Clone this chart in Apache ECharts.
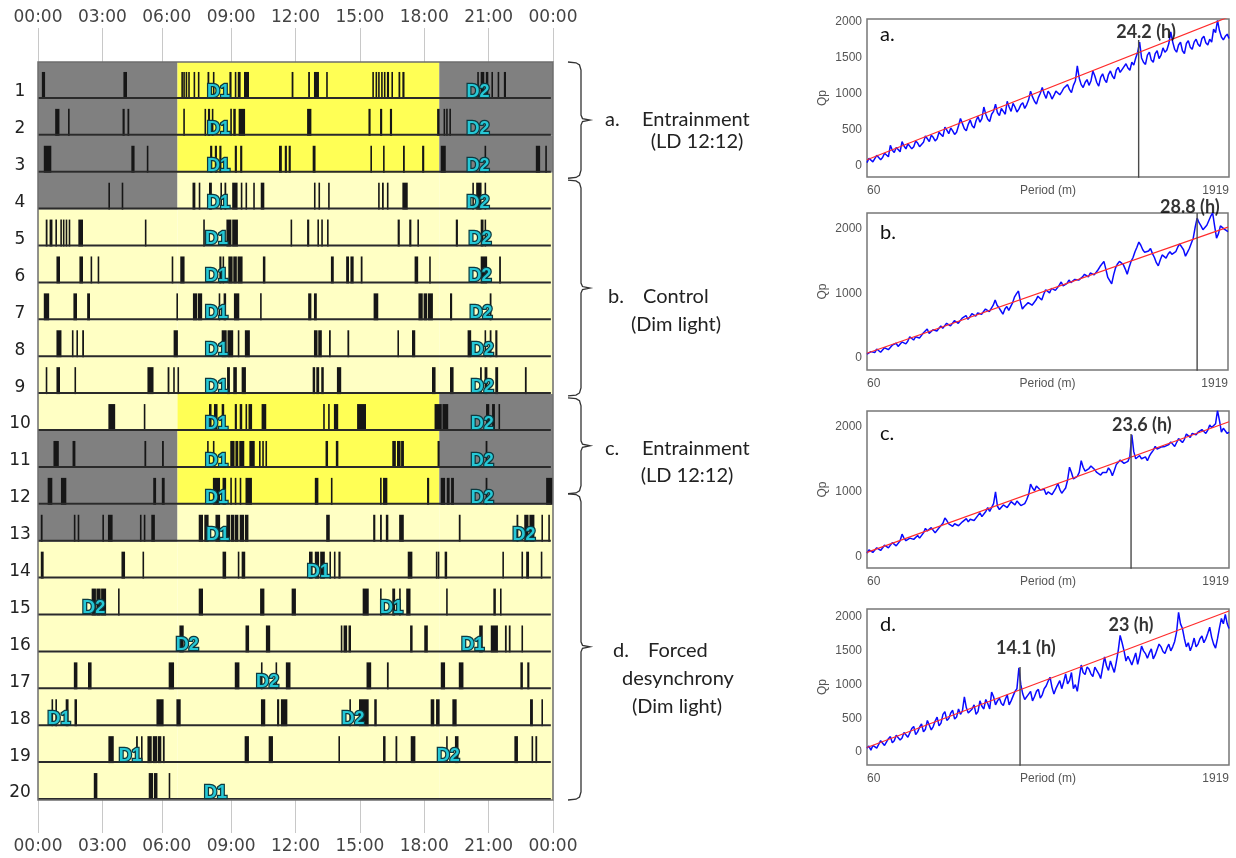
<!DOCTYPE html>
<html><head><meta charset="utf-8">
<script src="https://cdn.jsdelivr.net/npm/echarts@6/dist/echarts.min.js"></script>
<style>html,body{margin:0;padding:0;background:#fff}#c{width:1236px;height:858px}</style>
</head><body><div id="c"></div>
<script>
// ================= DATA =================
// Actogram: hour axis
const hourTicks  = [0, 3, 5.8, 9, 12, 15, 18, 21, 24];
const hourLabels = [0, 3, 6, 9, 12, 15, 18, 21, 24];
// light schedule boundaries (hours) and per-day regime: D = dark, L = light, d = dim light
const lightBounds = [0, 6.5, 18.7, 24];
const dayRegimes = ['DLD','DLD','DLD','Ddd','ddd','ddd','ddd','ddd','ddd','dLD',
                    'DLD','DLD','Ddd','ddd','ddd','ddd','ddd','ddd','ddd','ddd'];
// activity bouts per day: [start hour, duration in minutes]
const bouts = [
 [[0.18,9],[3.98,10],[6.68,3],[6.77,3],[6.88,3],[7.0,3],[7.25,2],[7.45,4],[7.9,5],[8.15,3],[8.92,6],[9.17,3],[9.31,8],[9.6,14],[11.82,5],[12.59,5],[12.86,14],[13.43,3],[15.58,3],[15.73,3],[15.85,3],[15.99,3],[16.12,3],[16.26,6],[16.47,2],[16.8,5],[16.98,6],[20.47,3],[20.63,10],[20.87,7],[21.13,3],[21.42,4],[21.71,6]],
 [[0.8,12],[1.4,3],[3.94,6],[4.17,5],[6.77,3],[7.76,3],[7.92,6],[8.1,4],[8.96,3],[9.1,7],[9.35,18],[12.54,12],[15.4,6],[15.94,6],[16.4,6],[18.6,7],[18.9,3],[19.02,3],[19.17,3]],
 [[0.27,21],[4.35,9],[5.07,4],[8.02,6],[8.24,6],[8.45,6],[9.17,6],[9.42,6],[11.23,8],[11.5,6],[11.68,6],[12.8,8],[15.49,3],[16.08,4],[17.01,5],[17.9,6],[18.77,14],[20.81,2],[23.2,12],[23.64,3]],
 [[3.28,4],[3.9,3],[7.2,8],[7.49,4],[7.97,8],[8.5,3],[8.69,5],[9.05,15],[9.45,3],[9.67,3],[10.03,3],[10.38,10],[12.86,3],[13.07,3],[13.52,3],[15.85,3],[16.03,5],[16.26,3],[16.98,15],[20.24,3],[20.42,15],[20.81,3]],
 [[0.36,5],[0.54,8],[0.81,3],[1.04,2],[1.16,3],[1.29,2],[1.43,3],[1.88,13],[4.98,4],[7.7,3],[8.78,14],[9.05,16],[11.77,2],[12.54,6],[13.02,3],[13.2,3],[13.47,3],[16.76,6],[17.3,6],[17.68,3],[19.47,6],[20.63,8],[20.81,2]],
 [[0.86,10],[1.93,10],[2.45,3],[2.78,3],[6.23,4],[6.63,12],[8.45,6],[8.6,4],[8.87,12],[9.1,10],[9.3,14],[10.48,7],[13.65,8],[14.36,8],[14.56,9],[15.04,5],[17.55,10],[18.23,4],[20.63,18],[21.49,5]],
 [[0.27,15],[1.65,10],[2.29,8],[6.45,4],[7.22,12],[7.45,12],[8.42,3],[8.65,7],[9.13,15],[10.35,3],[12.59,9],[12.86,8],[15.64,13],[17.73,12],[17.97,10],[18.17,14],[19.2,6],[21.05,5]],
 [[0.86,14],[1.58,3],[1.79,3],[2.06,5],[6.32,12],[8.56,14],[8.83,16],[9.31,3],[9.64,14],[12.86,10],[13.06,10],[13.56,5],[14.42,5],[16.75,3],[17.43,9],[20.02,10],[20.81,3],[21.05,5],[21.31,6]],
 [[0.36,2],[0.86,10],[1.7,3],[5.1,17],[6.04,5],[6.3,4],[6.5,2],[8.81,8],[9.1,10],[9.49,12],[12.8,7],[12.97,8],[13.2,7],[13.93,12],[18.36,10],[19.2,10],[20.6,5],[20.81,8],[21.31,8],[22.69,5]],
 [[3.28,19],[4.93,3],[7.97,7],[8.2,10],[8.56,7],[9.17,6],[9.4,7],[9.67,3],[9.81,10],[10.42,13],[13.29,3],[13.52,3],[13.79,12],[14.87,25],[18.48,20],[18.85,16],[20.88,9],[21.16,8],[21.46,4]],
 [[0.72,15],[1.61,8],[4.96,5],[5.78,5],[7.88,3],[8.15,4],[8.96,12],[9.2,8],[9.38,14],[9.85,15],[10.3,4],[10.45,3],[10.6,3],[13.4,7],[13.88,7],[16.51,10],[16.73,10],[16.92,8],[18.62,6],[20.86,5]],
 [[0.45,13],[1.07,15],[5.37,8],[5.77,8],[8.15,20],[8.6,10],[8.96,3],[9.17,3],[9.4,3],[9.67,18],[12.9,10],[13.65,4],[15.94,3],[16.08,12],[18.13,6],[18.77,12],[19.05,8],[19.25,8],[20.86,5],[23.68,18]],
 [[0.13,5],[1.67,3],[1.85,3],[3.0,4],[3.26,13],[4.75,3],[4.93,3],[5.28,10],[7.49,12],[7.75,12],[8.27,13],[8.78,10],[8.98,10],[9.17,10],[9.4,12],[9.64,10],[13.43,10],[15.62,6],[15.94,5],[16.21,7],[16.83,13],[19.61,5],[22.3,5],[22.66,12],[22.9,14],[23.46,3],[23.78,3]],
 [[0.13,8],[3.89,10],[4.87,4],[8.6,10],[9.31,3],[9.49,10],[12.63,10],[12.9,12],[13.15,13],[13.58,3],[13.79,3],[14.0,6],[17.23,13],[18.54,3],[18.63,3],[18.95,7],[21.64,4],[22.53,3],[22.75,8],[23.43,3]],
 [[2.5,12],[2.72,12],[2.94,14],[3.73,4],[7.49,12],[10.35,12],[11.82,12],[15.13,17],[15.94,2],[16.51,8],[16.83,3],[17.16,12],[19.02,4],[21.22,7],[21.53,4]],
 [[6.59,12],[9.67,10],[10.62,12],[14.11,3],[14.24,10],[14.47,7],[17.34,7],[18.0,10],[20.56,10],[21.1,20],[21.76,5],[21.94,5],[22.53,3]],
 [[1.67,10],[2.33,10],[6.09,15],[9.17,13],[10.39,2],[11.07,3],[11.55,13],[15.31,13],[16.26,5],[18.77,12],[19.61,13],[22.48,7],[22.8,6]],
 [[0.63,2],[0.81,2],[1.29,8],[1.7,7],[5.52,20],[6.45,12],[10.39,12],[11.14,6],[11.32,18],[14.51,3],[14.96,27],[15.67,7],[18.3,10],[18.55,10],[19.31,12],[22.93,8],[23.46,2]],
 [[3.28,15],[4.57,5],[4.8,4],[5.1,12],[5.35,12],[5.58,10],[5.82,5],[9.63,12],[10.75,12],[14.0,4],[16.08,7],[16.66,5],[17.37,13],[19.02,3],[19.43,10],[22.2,10],[23.0,3],[23.18,5]],
 [[2.6,10],[5.16,12],[5.4,10],[6.09,3]]
];
// D1 / D2 markers: [hour, day, text]
const dMarks = [
 [8.41,1,'D1'],[20.5,1,'D2'],[8.41,2,'D1'],[20.5,2,'D2'],[8.41,3,'D1'],[20.5,3,'D2'],[8.41,4,'D1'],[20.5,4,'D2'],
 [8.32,5,'D1'],[20.6,5,'D2'],[8.32,6,'D1'],[20.6,6,'D2'],[8.32,7,'D1'],[20.64,7,'D2'],[8.32,8,'D1'],[20.7,8,'D2'],
 [8.32,9,'D1'],[20.7,9,'D2'],[8.32,10,'D1'],[20.7,10,'D2'],[8.32,11,'D1'],[20.7,11,'D2'],[8.32,12,'D1'],[20.7,12,'D2'],
 [8.38,13,'D1'],[22.65,13,'D2'],[13.07,14,'D1'],[2.6,15,'D2'],[16.47,15,'D1'],[6.95,16,'D2'],[20.26,16,'D1'],
 [10.7,17,'D2'],[0.98,18,'D1'],[14.68,18,'D2'],[4.3,19,'D1'],[19.12,19,'D2'],[8.27,20,'D1']
];
// bracket spans in day units: [first day boundary, last day boundary]
const brackets = [[0, 3.15], [3.2, 9.05], [9.1, 11.7], [11.7, 20]];

// Periodograms (period in minutes, Qp)
const periods = [60,80,100,120,140,160,180,200,220,240,260,280,300,320,340,360,380,400,420,440,460,480,500,520,540,560,580,600,620,640,660,680,700,720,740,760,780,800,820,840,860,880,900,920,940,960,980,1000,1020,1040,1060,1080,1100,1120,1140,1160,1180,1200,1220,1240,1260,1280,1300,1320,1340,1360,1380,1400,1420,1440,1460,1480,1500,1520,1540,1560,1580,1600,1620,1640,1660,1680,1700,1720,1740,1760,1780,1800,1820,1840,1860,1880,1900,1919];
const midPeriods = [70,90,110,130,150,170,190,210,230,250,270,290,310,330,350,370,390,410,430,450,470,490,510,530,550,570,590,610,630,650,670,690,710,730,750,770,790,810,830,850,870,890,910,930,950,970,990,1010,1030,1050,1070,1090,1110,1130,1150,1170,1190,1210,1230,1250,1270,1290,1310,1330,1350,1370,1390,1410,1430,1450,1470,1490,1510,1530,1550,1570,1590,1610,1630,1650,1670,1690,1710,1730,1750,1770,1790,1810,1830,1850,1870,1890,1910];
const qpA = [50,95,80,140,120,175,290,190,230,340, 240,290,270,320,300,420,340,400,380,440, 540,450,490,470,660,520,580,560,630,610, 820,650,720,860,700,760,900,760,820,790, 880,850,1040,900,950,1090,940,1000,980,1060, 1030,1100,1060,1120,1390,1130,1160,1120,1320,1160, 1230,1200,1270,1250,1330,1300,1380,1360,1440,1500, 1720,1440,1540,1470,1560,1490,1640,1610,1860,1620, 1680,1600,1700,1650,1720,1690,1770,1710,1760,1900, 2020,1790,1800,1770];
const qpAmid = [110,60,150,90,180,130,220,260,200,280, 310,240,350,270,330,380,430,350,470,410, 500,530,440,560,590,490,640,530,690,660, 720,620,760,740,800,720,820,870,750,850, 800,920,960,860,1010,1000,1040,930,1040,990, 1080,1130,1020,1180,1220,1090,1200,1180,1250,1110, 1280,1160,1320,1210,1370,1280,1420,1330,1400,1580, 1500,1410,1580,1440,1600,1540,1580,1700,1720,1580, 1720,1560,1740,1620,1760,1660,1800,1680,1720,1850, 1880,1750,1830];
const qpB = [60,100,85,130,110,170,150,210,180,250, 220,330,280,360,330,420,380,440,420,500, 470,560,520,600,560,640,600,690,650,720, 690,790,740,900,780,680,800,770,950,1040, 760,820,880,840,960,900,1060,1010,1110,1060, 1180,1100,1210,1150,1250,1200,1300,1260,1340,1300, 1420,1500,1250,1150,1400,1500,1450,1300,1500,1650, 1800,1680,1620,1700,1560,1430,1600,1550,1650,1590, 1720,1800,1580,1700,1860,2170,2050,2000,2130,2250, 1860,2050,2000,1960];
const qpBmid = [50,120,140,90,160,130,200,230,170,270, 260,300,330,310,390,450,390,460,450,460, 540,500,580,540,620,660,640,660,700,680, 760,720,820,820,730,760,740,860,1000,880, 800,860,820,900,930,990,1040,1080,1050,1130, 1120,1160,1170,1220,1210,1260,1270,1320,1290,1370, 1450,1380,1200,1290,1460,1470,1380,1410,1560,1720, 1750,1640,1660,1620,1480,1520,1580,1610,1610,1650, 1770,1680,1640,1780,2030,2100,1990,2060,2200,2050, 1930,2020,1980];
const qpC = [60,100,85,130,115,170,150,210,190,350, 250,290,270,330,310,440,380,420,400,470, 600,510,470,530,500,560,540,610,590,680, 650,760,730,1000,730,800,760,850,800,830, 780,880,1120,1020,1070,1000,960,1030,990,1130, 980,1060,1380,1200,1240,1480,1320,1360,1390,1300, 1260,1330,1370,1250,1420,1490,1440,1470,1880,1510, 1560,1520,1480,1600,1700,1640,1680,1720,1770,1700, 1820,1760,1890,1840,1880,1920,1960,1900,2030,1960, 2250,1920,1950,1920];
const qpCmid = [110,70,140,100,180,140,220,170,250,290, 240,320,300,290,370,400,450,370,450,520, 560,480,510,480,540,590,580,560,640,620, 700,700,820,780,760,820,790,820,860,790, 820,960,1060,1090,1030,1040,1000,960,1060,1040, 1020,1180,1300,1220,1300,1380,1340,1400,1340,1290, 1300,1300,1330,1330,1450,1460,1430,1550,1620,1540, 1510,1540,1550,1640,1660,1690,1700,1730,1740,1760, 1800,1810,1860,1900,1880,1930,1940,1950,1990,2050, 2100,1980,1900];
const qpD = [60,30,110,80,160,120,230,170,270,210, 300,240,380,300,420,340,450,380,520,430, 600,500,620,520,560,820,580,640,560,760, 640,720,890,700,800,690,850,760,900,1250, 860,760,900,820,930,850,980,1110,860,1000, 940,1160,1060,940,900,1290,1150,1230,1120,1240, 1090,1410,1210,1260,1330,1730,1500,1420,1290,1470, 1420,1500,1390,1530,1440,1600,1490,1540,1500,1640, 2070,1830,1560,1500,1690,1600,1720,1680,1850,1600, 1680,1980,2040,1830];
const qpDmid = [90,100,60,170,100,200,140,250,180,290, 220,350,260,370,300,470,330,460,390,560, 470,580,490,640,610,660,560,700,600,680, 780,640,820,760,720,780,700,830,940,1000, 780,860,760,900,800,940,1050,960,940,1060, 1040,1010,1180,1000,1100,1180,1260,1160,1260,1160, 1250,1280,1350,1180,1500,1620,1350,1360,1380,1300, 1570,1460,1470,1380,1520,1560,1460,1600,1560,1780, 1900,1680,1620,1580,1560,1680,1620,1760,1700,1540, 1840,1900,1900];
const trendA = [[60,90],[1919,2070]];
const trendB = [[60,75],[1919,2030]];
const trendC = [[60,70],[1919,2080]];
const trendD = [[60,70],[1919,2090]];
const peakA = [[1455,1750]];
const peakB = [[1760,2250]];
const peakC = [[1416,1890]];
const peakD = [[846,1260]];
const noteA = [[1493,1860,'24.2 (h)']];
const noteB = [[1723,2340,'28.8 (h)']];
const noteC = [[1472,2031,'23.6 (h)']];
const noteD = [[876,1541,'14.1 (h)'],[1416,1881,'23 (h)']];
const panelNames = ['a.','b.','c.','d.'];

// ================= CHART =================
const chart = echarts.init(document.getElementById('c'), null, {renderer:'canvas'});
const bgColors = {D:'#808080', L:'#ffff55', d:'#ffffc4'};
const bgData = [];
dayRegimes.forEach((reg, i) => { for (let j = 0; j < 3; j++) bgData.push([lightBounds[j], i + 1, lightBounds[j+1], reg[j]]); });
const barData = [];
bouts.forEach((day, i) => day.forEach(b => barData.push([b[0], i + 1, b[1]])));
const dayIdx = dayRegimes.map((_, i) => [0, i + 1]);
const fmtHour = v => { const h = Math.round(v) % 24; return (h < 10 ? '0' : '') + h + ':00'; };

const gridsP = [
  {left:867, top:19, width:362, height:158},
  {left:867, top:213, width:361, height:157},
  {left:867, top:411, width:362, height:157},
  {left:867, top:609, width:362, height:156}
];
const yRanges = [[-150,2040,5,500],[-185,2250,2,1000],[-170,2245,2,1000],[-190,2120,5,500]];
const pFont = 'Liberation Sans';

const hourAxis = (pos, len, margin) => ({type:'value', gridIndex:0, position:pos, min:0, max:24, interval:3,
   axisLine:{show:false, onZero:false}, splitLine:{show:false},
   axisTick:{show:true, inside:false, length:len, customValues:hourTicks, lineStyle:{color:'#c8c8c8', width:1}},
   axisLabel:{customValues:hourLabels, formatter:fmtHour, margin:margin, fontSize:17, color:'#444', fontFamily:'DejaVu Sans'}});
const xAxes = [hourAxis('bottom', 33, 38), hourAxis('top', 34, 36)];
const yAxes = [{type:'value', gridIndex:0, min:0, max:20, inverse:true, show:false}];
gridsP.forEach((g, k) => {
  xAxes.push({type:'value', gridIndex:k+1, min:60, max:1919,
    name:'Period (m)', nameLocation:'middle', nameGap:8, nameMoveOverlap:false,
    nameTextStyle:{fontSize:12, color:'#555', fontFamily:pFont, verticalAlign:'top'},
    axisLine:{show:false, onZero:false}, axisTick:{show:false}, splitLine:{show:false},
    axisLabel:{margin:8, fontSize:12, color:'#555', fontFamily:pFont, interval:0,
      showMinLabel:true, showMaxLabel:true, alignMinLabel:'left', alignMaxLabel:'right',
      formatter: v => (v === 60 || v === 1919) ? String(v) : ''}});
  const r = yRanges[k];
  yAxes.push({type:'value', gridIndex:k+1, min:r[0], max:r[1], splitNumber:r[2],
    name:'Qp', nameLocation:'middle', nameGap:38, nameRotate:90, nameMoveOverlap:false,
    nameTextStyle:{fontSize:12, color:'#555', fontFamily:pFont},
    axisLine:{show:false, onZero:false}, axisTick:{show:false}, splitLine:{show:false},
    axisLabel:{margin:5, fontSize:12, color:'#555', fontFamily:pFont,
      formatter: v => (v >= 0 && v <= 2000 && v % r[3] === 0) ? String(v) : ''}});
});

const series = [
  {type:'custom', name:'background', xAxisIndex:0, yAxisIndex:0, z:1, data:bgData, silent:true,
   renderItem:(params, api) => {
     const p1 = api.coord([api.value(0), api.value(1) - 1]);
     const p2 = api.coord([api.value(2), api.value(1)]);
     return {type:'rect', shape:{x:p1[0], y:p1[1], width:p2[0]-p1[0], height:p2[1]-p1[1]},
             style:{fill:bgColors[bgData[params.dataIndex][3]]}};
   }},
  {type:'custom', name:'activity', xAxisIndex:0, yAxisIndex:0, z:2, data:barData, silent:true,
   renderItem:(params, api) => {
     const s = api.value(0), d = api.value(1), m = api.value(2);
     const p1 = api.coord([s, d - 1 + 0.27]);
     const p2 = api.coord([s + m / 60, d]);
     return {type:'rect', shape:{x:p1[0], y:p1[1], width:Math.max(1.6, p2[0]-p1[0]), height:p2[1]-p1[1]},
             style:{fill:'#161616'}};
   }},
  {type:'custom', name:'baselines', xAxisIndex:0, yAxisIndex:0, z:3, data:dayIdx, silent:true,
   renderItem:(params, api) => {
     const d = api.value(1);
     const p1 = api.coord([0, d]), p2 = api.coord([23.9, d]);
     return {type:'line', shape:{x1:p1[0], y1:p1[1]-1, x2:p2[0], y2:p2[1]-1}, style:{stroke:'#2a2a2a', lineWidth:2}};
   }},
  {type:'custom', name:'frame', xAxisIndex:0, yAxisIndex:0, z:4, data:[[0,0,24,20]], silent:true,
   renderItem:(params, api) => {
     const p1 = api.coord([0, 0]), p2 = api.coord([24, 20]);
     return {type:'rect', shape:{x:p1[0], y:p1[1], width:p2[0]-p1[0], height:p2[1]-p1[1]},
             style:{fill:'none', stroke:'#6e6e6e', lineWidth:1.5}};
   }},
  {type:'custom', name:'dayNumbers', xAxisIndex:0, yAxisIndex:0, z:5, data:dayIdx, silent:true, clip:false,
   renderItem:(params, api) => {
     const p = api.coord([0, api.value(1)]);
     return {type:'text', style:{x:p[0]-18, y:p[1]-7, text:String(api.value(1)), font:'17px "DejaVu Sans"',
             fill:'#222', align:'center', verticalAlign:'middle'}};
   }},
  {type:'custom', name:'dMarks', xAxisIndex:0, yAxisIndex:0, z:6, data:dMarks.map(m => [m[0], m[1]]), silent:true,
   renderItem:(params, api) => {
     const p = api.coord([api.value(0), api.value(1)]);
     return {type:'text', style:{x:p[0], y:p[1]-7, text:dMarks[params.dataIndex][2], font:'bold 18px "Liberation Sans"',
             fill:'#26c8d6', stroke:'#0d3a40', lineWidth:2.5, align:'center', verticalAlign:'middle'}};
   }},
  {type:'custom', name:'brackets', xAxisIndex:0, yAxisIndex:0, z:6, data:brackets.map(b => [24, b[0], b[1]]), silent:true, clip:false,
   renderItem:(params, api) => {
     const a = api.coord([24, api.value(1)]), b = api.coord([24, api.value(2)]);
     const X = a[0], t = a[1], e = b[1], m = (t + e) / 2;
     const hx = X + 15, sx = X + 28, tx = X + 37;
     const pts = [[hx,t],[sx-5,t+0.8],[sx-1.5,t+3],[sx,t+8],[sx,m-5],[sx+1.5,m-1.5],[tx,m],[sx+1.5,m+1.5],[sx,m+5],[sx,e-8],[sx-1.5,e-3],[sx-5,e-0.8],[hx,e]];
     return {type:'polyline', shape:{points:pts}, style:{stroke:'#333', lineWidth:1.3, fill:'none'}};
   }}
];

const qps = [qpA, qpB, qpC, qpD];
const mids = [qpAmid, qpBmid, qpCmid, qpDmid];
const trends = [trendA, trendB, trendC, trendD];
const peaks = [peakA, peakB, peakC, peakD];
const notes = [noteA, noteB, noteC, noteD];
for (let k = 0; k < 4; k++) {
  const xi = k + 2, yi = k + 1;
  const pts = [];
  periods.forEach((p, i) => {
    pts.push([p, qps[k][i]]);
    if (i < midPeriods.length) pts.push([midPeriods[i], mids[k][i]]);
  });
  series.push({type:'line', xAxisIndex:xi, yAxisIndex:yi, data:pts,
    symbol:'none', lineStyle:{color:'#0a0aff', width:1.5}, z:2, silent:true});
  series.push({type:'line', xAxisIndex:xi, yAxisIndex:yi, data:trends[k],
    symbol:'none', lineStyle:{color:'#ff2b2b', width:1.2}, z:3, silent:true});
  peaks[k].forEach(pk => series.push({type:'line', xAxisIndex:xi, yAxisIndex:yi,
    data:[[pk[0], -1000], [pk[0], pk[1]]], symbol:'none', lineStyle:{color:'#4a4a4a', width:1.4}, z:4, silent:true}));
  series.push({type:'scatter', xAxisIndex:xi, yAxisIndex:yi, data:notes[k].map(n => [n[0], n[1]]),
    symbolSize:1, itemStyle:{color:'transparent'}, clip:false, z:5, silent:true,
    label:{show:true, position:'inside', formatter:p => notes[k][p.dataIndex][2],
      fontSize:18, fontWeight:'bold', fontFamily:'Lato', color:'#000', textBorderWidth:0}});
}

const graphics = [];
const letterY = [35, 233, 434, 625];
letterY.forEach((y, k) => graphics.push({type:'text', x:880, y:y,
  style:{text:panelNames[k], font:'20px Lato', fill:'#111', verticalAlign:'middle'}}));
const noteStyle = (text, x, y, align) => ({type:'text', x:x, y:y,
  style:{text:text, font:'20px Lato', fill:'#222', align:align || 'left', verticalAlign:'middle'}});
graphics.push(
  noteStyle('a.', 605, 120), noteStyle('Entrainment', 642, 120), noteStyle('(LD 12:12)', 697, 142, 'center'),
  noteStyle('b.', 608, 297), noteStyle('Control', 643, 297), noteStyle('(Dim light)', 676, 325, 'center'),
  noteStyle('c.', 605, 449), noteStyle('Entrainment', 642, 449), noteStyle('(LD 12:12)', 687, 476, 'center'),
  noteStyle('d.', 613, 651), noteStyle('Forced', 648, 651), noteStyle('desynchrony', 678, 679, 'center'),
  noteStyle('(Dim light)', 677, 707, 'center')
);

chart.setOption({
  animation:false,
  backgroundColor:'#ffffff',
  grid:[{left:38, top:62, width:515, height:738}].concat(gridsP.map(g => Object.assign({show:true, borderColor:'#777', borderWidth:1.5, backgroundColor:'transparent'}, g))),
  xAxis:xAxes,
  yAxis:yAxes,
  series:series,
  graphic:{elements:graphics}
});
</script></body></html>
